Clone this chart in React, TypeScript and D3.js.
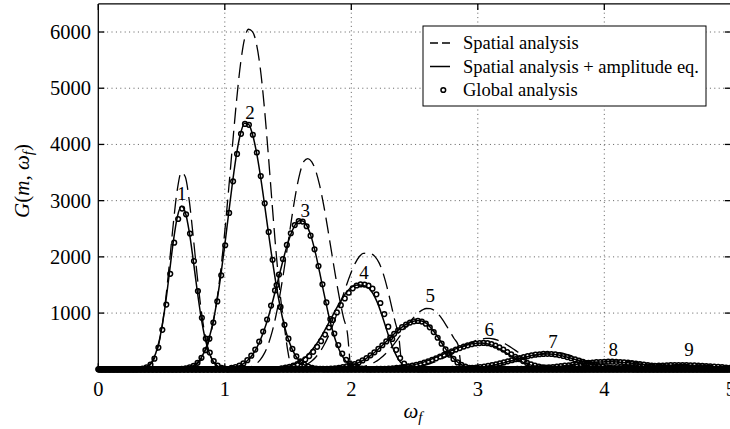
import React from 'react';
import * as d3 from 'd3';

// ω grid: ω = (k + phase) / GRID_DIV, k = 0..GRID_MAX
const GRID_DIV = 32;
const GRID_MAX = 160;

const MODE_LABELS = ['1', '2', '3', '4', '5', '6', '7', '8', '9'];
const LABEL_OMEGA = [0.66, 1.2, 1.635, 2.1, 2.625, 3.09, 3.595, 4.07, 4.67];
const LABEL_G = [3130, 4560, 2830, 1720, 1320, 715, 490, 355, 355];

const X_TICKS = [0, 1, 2, 3, 4, 5];
const Y_TICKS = [1000, 2000, 3000, 4000, 5000, 6000];
const X_GRID = [1, 2, 3, 4];

const LEGEND_LABELS = ['Spatial analysis', 'Spatial analysis + amplitude eq.', 'Global analysis'];

// Global analysis (circles): start index and sampling phase (grid units) per mode
const GLOBAL_START = [10, 20, 34, 46, 54, 64, 84, 100, 118];
const GLOBAL_PHASE = [0.2, 0.1, -0.3, 0.35, -0.15, 0.45, -0.4, 0.0, -0.2];
const GLOBAL_G: number[][] = [
  [4, 12, 33, 83, 189, 387, 702, 1151, 1698, 2252, 2674, 2859, 2756, 2415, 1925, 1392, 917, 548, 299, 148, 66, 27, 10],
  [3, 8, 16, 33, 63, 116, 204, 341, 545, 831, 1207, 1671, 2207, 2782, 3343, 3832, 4188, 4365, 4349, 4172, 3857, 3437, 2952, 2443, 1949, 1498, 1110, 792, 545, 362, 231, 142, 84, 48, 27, 14, 7],
  [24, 40, 66, 105, 162, 243, 351, 493, 672, 886, 1133, 1403, 1685, 1962, 2213, 2420, 2565, 2635, 2628, 2545, 2377, 2135, 1837, 1513, 1189, 892, 636, 432, 278, 170, 99, 54, 28, 14, 6],
  [19, 29, 43, 64, 91, 128, 176, 236, 310, 399, 501, 617, 744, 877, 1011, 1141, 1260, 1362, 1441, 1491, 1510, 1508, 1488, 1434, 1333, 1179, 982, 759, 539, 346, 199, 101, 45, 17, 6],
  [2, 2, 4, 6, 9, 13, 19, 27, 38, 52, 70, 94, 123, 158, 199, 248, 302, 363, 428, 496, 564, 631, 694, 750, 797, 832, 853, 860, 849, 811, 747, 662, 561, 456, 353, 261, 184, 123, 79, 47, 27, 15, 8],
  [1, 1, 1, 2, 3, 4, 6, 8, 10, 14, 19, 25, 32, 41, 52, 66, 81, 99, 120, 143, 169, 196, 226, 257, 288, 319, 350, 378, 404, 427, 446, 459, 467, 470, 464, 448, 422, 389, 350, 308, 264, 222, 182, 146, 114, 87, 65, 48, 34, 24, 16, 11, 7, 4, 3],
  [1, 1, 1, 2, 3, 4, 6, 8, 11, 14, 19, 24, 31, 40, 50, 61, 74, 89, 105, 123, 141, 161, 180, 199, 217, 233, 248, 260, 268, 273, 275, 272, 265, 253, 237, 218, 197, 175, 153, 131, 111, 91, 74, 59, 46, 36, 27, 20, 15, 11, 7, 5, 3],
  [1, 1, 2, 3, 4, 5, 6, 8, 10, 13, 16, 20, 24, 29, 35, 41, 48, 56, 64, 72, 81, 90, 98, 106, 113, 120, 126, 130, 133, 135, 135, 133, 130, 125, 118, 111, 102, 93, 84, 74, 65, 56, 48, 40, 33, 27, 22, 17, 14, 11, 8, 6, 5, 3, 2],
  [1, 1, 1, 2, 2, 3, 4, 5, 6, 8, 10, 12, 15, 18, 21, 25, 29, 33, 37, 42, 47, 52, 56, 61, 65, 68, 71, 73, 74, 75, 75, 74, 72, 69, 65, 61, 57, 52, 47, 42, 37, 32, 28],
];

// Spatial analysis + amplitude equation (solid)
const AMP_START = [10, 20, 34, 46, 54, 64, 84, 100, 118];
const AMP_G: number[][] = [
  [4, 12, 33, 84, 192, 392, 712, 1167, 1722, 2284, 2711, 2899, 2795, 2449, 1952, 1411, 930, 556, 303, 150, 67, 27, 10],
  [3, 8, 16, 33, 63, 116, 204, 341, 546, 833, 1210, 1675, 2212, 2788, 3350, 3841, 4198, 4376, 4360, 4182, 3866, 3445, 2959, 2449, 1954, 1502, 1113, 794, 546, 363, 231, 142, 84, 48, 27, 14, 7],
  [26, 44, 72, 113, 174, 259, 373, 522, 706, 927, 1179, 1454, 1737, 2012, 2258, 2457, 2591, 2648, 2628, 2521, 2324, 2048, 1723, 1379, 1049, 757, 517, 334, 204, 118, 64, 33, 16, 7],
  [22, 33, 50, 73, 103, 143, 195, 260, 338, 432, 538, 658, 787, 920, 1053, 1179, 1293, 1387, 1457, 1497, 1500, 1492, 1464, 1396, 1280, 1115, 908, 688, 477, 300, 168, 84, 36, 13, 4],
  [2, 2, 4, 6, 9, 13, 19, 27, 38, 53, 71, 95, 125, 161, 203, 253, 308, 370, 436, 505, 574, 641, 705, 760, 806, 840, 860, 868, 856, 816, 750, 664, 561, 455, 351, 259, 182, 121, 78, 46, 26, 15, 8],
  [1, 1, 1, 2, 3, 4, 6, 8, 11, 15, 20, 26, 33, 42, 54, 68, 83, 101, 122, 146, 172, 200, 230, 261, 292, 323, 353, 381, 406, 428, 446, 458, 465, 467, 460, 443, 416, 382, 343, 301, 257, 215, 176, 141, 110, 83, 62, 46, 33, 23, 15, 10, 6, 4, 2],
  [1, 1, 1, 2, 3, 4, 6, 8, 11, 14, 19, 25, 32, 41, 51, 62, 75, 90, 106, 124, 142, 162, 181, 200, 218, 234, 248, 259, 266, 270, 270, 266, 258, 245, 229, 210, 189, 167, 145, 124, 104, 85, 69, 55, 43, 33, 25, 18, 13, 10, 6, 4, 3],
  [1, 1, 2, 3, 4, 5, 6, 8, 10, 13, 16, 20, 24, 29, 35, 41, 48, 56, 64, 72, 81, 90, 98, 106, 113, 119, 125, 129, 132, 133, 133, 131, 127, 122, 115, 107, 98, 89, 80, 70, 61, 53, 45, 37, 31, 25, 20, 16, 13, 10, 7, 5, 4, 3, 2],
  [1, 1, 1, 2, 2, 3, 4, 5, 6, 8, 10, 12, 15, 18, 21, 25, 29, 33, 37, 42, 47, 52, 56, 60, 64, 67, 70, 72, 73, 74, 74, 73, 71, 68, 64, 60, 56, 51, 46, 41, 36, 31, 27],
];

// Spatial analysis (dashed); SPATIAL_STEP in grid units
const SPATIAL_START = [10, 22, 36, 48, 58, 72, 94, 108, 124];
const SPATIAL_STEP = [1, 1, 1, 1, 1, 1, 1, 2, 2];
const SPATIAL_G: number[][] = [
  [2, 8, 24, 67, 165, 360, 703, 1221, 1890, 2607, 3202, 3504, 3424, 3004, 2369, 1677, 1067, 610, 313, 144, 60, 22, 8],
  [11, 23, 48, 93, 172, 302, 506, 808, 1229, 1779, 2454, 3222, 4030, 4799, 5444, 5880, 6049, 6008, 5792, 5342, 4665, 3825, 2920, 2062, 1339, 795, 300, 0],
  [7, 15, 29, 55, 100, 172, 283, 447, 675, 975, 1347, 1780, 2251, 2724, 3152, 3490, 3697, 3749, 3691, 3532, 3270, 2924, 2519, 2087, 1661, 1268, 928, 650, 0],
  [8, 15, 25, 40, 64, 98, 148, 215, 304, 419, 559, 725, 915, 1120, 1333, 1541, 1731, 1888, 2002, 2062, 2070, 2056, 2005, 1897, 1718, 1471, 1177, 869, 584, 0],
  [1, 1, 2, 3, 5, 8, 13, 20, 31, 46, 66, 94, 130, 176, 232, 300, 379, 467, 563, 662, 762, 856, 940, 1008, 1056, 1082, 1081, 1047, 982, 891, 783, 666, 548, 437, 0],
  [2, 3, 4, 7, 10, 14, 19, 26, 35, 47, 62, 80, 101, 127, 156, 190, 226, 265, 307, 349, 390, 430, 466, 497, 522, 539, 549, 549, 539, 518, 488, 450, 407, 361, 313, 267, 222, 0],
  [8, 12, 16, 21, 28, 37, 48, 60, 75, 92, 110, 131, 153, 176, 198, 221, 242, 261, 276, 289, 297, 300, 298, 290, 276, 257, 234, 208, 182, 155, 129, 106, 0],
  [6, 10, 16, 25, 37, 52, 70, 89, 109, 127, 141, 149, 149, 141, 125, 104, 81, 0],
  [2, 4, 6, 10, 15, 22, 31, 42, 53, 64, 74, 81, 85, 84, 80, 72, 62, 51, 40],
];

const FONT = '"Liberation Serif", "Times New Roman", Times, serif';

type Pt = [number, number];

function buildLine(start: number, step: number, vals: number[]): Pt[] {
  const pts: Pt[] = [[0, 0]];
  const before = (start - step) / GRID_DIV;
  if (before > 0) pts.push([before, 0]);
  vals.forEach((v, i) => pts.push([(start + i * step) / GRID_DIV, v]));
  const lastIdx = start + (vals.length - 1) * step;
  const after = (lastIdx + step) / GRID_DIV;
  if (vals[vals.length - 1] !== 0 && after < 5) pts.push([after, 0]);
  if (lastIdx / GRID_DIV < 5) pts.push([5, 0]);
  return pts;
}

export default function App() {
  const W = 730;
  const H = 429;
  const left = 98.3;
  const right = 730.8;
  const top = 3.9;
  const bottom = 369.3;

  const x = d3.scaleLinear().domain([0, 5]).range([left, right]);
  const y = d3.scaleLinear().domain([0, 6500]).range([bottom, top]);
  const line = d3
    .line<Pt>()
    .x((d) => x(d[0]))
    .y((d) => y(d[1]))
    .curve(d3.curveMonotoneX);

  const dashedPaths = SPATIAL_G.map((vals, m) => line(buildLine(SPATIAL_START[m], SPATIAL_STEP[m], vals)) || '');
  const solidPaths = AMP_G.map((vals, m) => line(buildLine(AMP_START[m], 1, vals)) || '');

  const circles: Pt[] = [];
  GLOBAL_G.forEach((vals, m) => {
    for (let k = 0; k <= GRID_MAX; k++) {
      const i = k - GLOBAL_START[m];
      const v = i >= 0 && i < vals.length ? vals[i] : 0;
      const w = (k + GLOBAL_PHASE[m]) / GRID_DIV;
      if (w < 0 || w > 5) continue;
      circles.push([w, v]);
    }
  });

  const tickLen = 6;
  const legX = 423;
  const legY = 26;
  const legW = 283;
  const legH = 80;
  const rowY = [43, 66.5, 90];

  return (
    <svg
      width={W}
      height={H}
      style={{ position: 'absolute', left: 0, top: 0, background: '#fff' }}
      fontFamily={FONT}
    >
      <rect x={0} y={0} width={W} height={H} fill="#fff" />
      {/* grid */}
      <g stroke="#333" strokeWidth={0.8} strokeDasharray="1,3.4">
        {X_GRID.map((v) => (
          <line key={'gx' + v} x1={x(v)} x2={x(v)} y1={top} y2={bottom} />
        ))}
        {Y_TICKS.map((v) => (
          <line key={'gy' + v} x1={left} x2={right} y1={y(v)} y2={y(v)} />
        ))}
      </g>

      {/* dashed: spatial analysis */}
      <g fill="none" stroke="#000" strokeWidth={1.3} strokeDasharray="16,7">
        {dashedPaths.map((d, i) => (
          <path key={'d' + i} d={d} />
        ))}
      </g>
      {/* solid: spatial + amplitude eq */}
      <g fill="none" stroke="#000" strokeWidth={1.5}>
        {solidPaths.map((d, i) => (
          <path key={'s' + i} d={d} />
        ))}
      </g>
      {/* circles: global analysis */}
      <g fill="none" stroke="#000" strokeWidth={1.5}>
        {circles.map((c, i) => (
          <circle key={'c' + i} cx={x(c[0])} cy={y(c[1])} r={2.35} />
        ))}
      </g>

      {/* mode labels */}
      <g fontSize={19} textAnchor="middle" fill="#000">
        {MODE_LABELS.map((t, i) => (
          <text key={'ml' + i} x={x(LABEL_OMEGA[i])} y={y(LABEL_G[i]) + 6.5}>
            {t}
          </text>
        ))}
      </g>

      {/* axes box */}
      <g stroke="#000" strokeWidth={1.3} fill="none">
        <line x1={left} x2={left} y1={top} y2={bottom} />
        <line x1={left} x2={right} y1={top} y2={top} />
        <line x1={left} x2={right} y1={bottom} y2={bottom} />
        <line x1={right} x2={right} y1={top} y2={bottom} />
        {X_TICKS.map((v) => (
          <g key={'tx' + v}>
            <line x1={x(v)} x2={x(v)} y1={top} y2={top + tickLen} />
            <line x1={x(v)} x2={x(v)} y1={bottom} y2={bottom - tickLen} />
          </g>
        ))}
        {Y_TICKS.map((v) => (
          <g key={'ty' + v}>
            <line x1={left} x2={left + tickLen} y1={y(v)} y2={y(v)} />
            <line x1={right} x2={right - tickLen} y1={y(v)} y2={y(v)} />
          </g>
        ))}
      </g>

      {/* tick labels */}
      <g fontSize={20.5} fill="#000">
        {X_TICKS.map((v) => (
          <text key={'xl' + v} x={x(v)} y={395.5} textAnchor="middle">
            {String(v)}
          </text>
        ))}
        {Y_TICKS.map((v) => (
          <text key={'yl' + v} x={91} y={y(v) + 7} textAnchor="end">
            {String(v)}
          </text>
        ))}
      </g>

      {/* axis labels */}
      <text x={413} y={418} textAnchor="middle" fontSize={21} fill="#000">
        <tspan fontStyle="italic">ω</tspan>
        <tspan fontStyle="italic" fontSize={15} dy={4}>f</tspan>
      </text>
      <text
        transform={`translate(29,${181}) rotate(-90)`}
        textAnchor="middle"
        fontSize={21}
        fill="#000"
      >
        <tspan fontStyle="italic">G</tspan>
        <tspan>(</tspan>
        <tspan fontStyle="italic">m</tspan>
        <tspan>, </tspan>
        <tspan fontStyle="italic">ω</tspan>
        <tspan fontStyle="italic" fontSize={15} dy={4}>f</tspan>
        <tspan dy={-4}>)</tspan>
      </text>

      {/* legend */}
      <g>
        <rect x={legX} y={legY} width={legW} height={legH} fill="#fff" stroke="#000" strokeWidth={1} />
        <line x1={430} x2={450} y1={rowY[0]} y2={rowY[0]} stroke="#000" strokeWidth={1.3} strokeDasharray="8,4" />
        <line x1={430} x2={450} y1={rowY[1]} y2={rowY[1]} stroke="#000" strokeWidth={1.5} />
        <circle cx={443.3} cy={rowY[2]} r={2.35} fill="none" stroke="#000" strokeWidth={1.5} />
        {LEGEND_LABELS.map((t, i) => (
          <text key={'lg' + i} x={463} y={rowY[i] + 6} fontSize={18.5} fill="#000">
            {t}
          </text>
        ))}
      </g>
    </svg>
  );
}
